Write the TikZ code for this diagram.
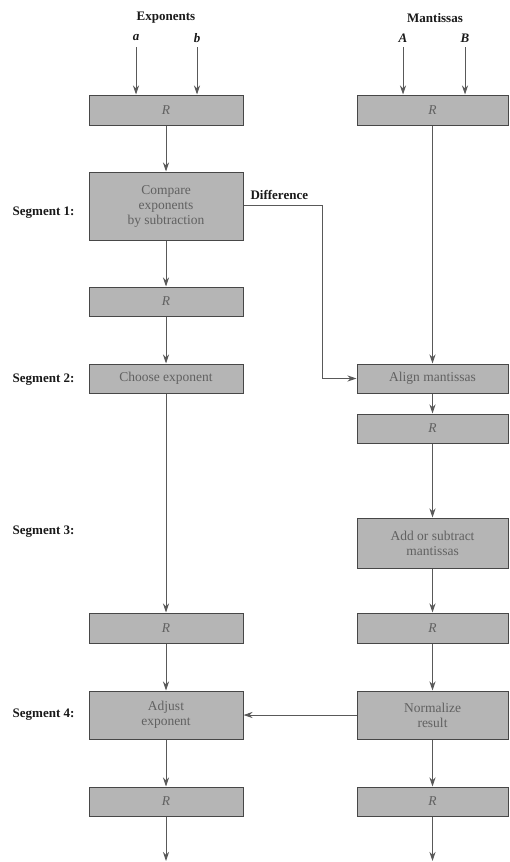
\documentclass[tikz,border=0pt]{standalone}
\usepackage{fontspec}
\setmainfont{Liberation Serif}
\usetikzlibrary{arrows.meta}
\begin{document}
\begin{tikzpicture}[x=1pt,y=-1pt,
  box/.style={draw=black!72, fill=black!29, line width=1pt, inner sep=0pt, align=center,
    font=\fontsize{13.5}{15}\selectfont, text=black!62},
  lbox/.style={box, minimum width=154pt},
  rbox/.style={box, minimum width=151pt},
  lbl/.style={font=\bfseries\fontsize{13}{14}\selectfont, text=black!90},
  ilbl/.style={font=\bfseries\itshape\fontsize{13}{14}\selectfont, text=black!90},
  arr/.style={draw=black!65, line width=1pt, -{Stealth[length=9pt,width=6pt]}}]
\useasboundingbox (0,0) rectangle (510,862);
% column headers
\node[lbl] (hexp) at (166,18) {Exponents};
\node[lbl] (hman) at (435,18) {Mantissas};
\node[ilbl] (la) at (136,38) {a};
\node[ilbl] (lb) at (197,38) {b};
\node[ilbl] (lA) at (403,38) {A};
\node[ilbl] (lB) at (465,38) {B};
% left column
\node[lbox, minimum height=30pt] (R1L) at (166,110) {\textit{R}};
\node[lbox, minimum height=68pt] (CMP) at (166,206) {Compare\\exponents\\by subtraction};
\node[lbox, minimum height=29pt] (R2L) at (166,301.5) {\textit{R}};
\node[lbox, minimum height=29pt] (CHO) at (166,378.5) {Choose exponent};
\node[lbox, minimum height=30pt] (R3L) at (166,628) {\textit{R}};
\node[lbox, minimum height=48pt] (ADJ) at (166,715) {Adjust\\exponent};
\node[lbox, minimum height=29pt] (R4L) at (166,801.5) {\textit{R}};
% right column
\node[rbox, minimum height=30pt] (R1R) at (432.5,110) {\textit{R}};
\node[rbox, minimum height=29pt] (ALI) at (432.5,378.5) {Align mantissas};
\node[rbox, minimum height=29pt] (R2R) at (432.5,428.5) {\textit{R}};
\node[rbox, minimum height=50pt] (ADD) at (432.5,543) {Add or subtract\\mantissas};
\node[rbox, minimum height=30pt] (R3R) at (432.5,628) {\textit{R}};
\node[rbox, minimum height=48pt] (NOR) at (432.5,715) {Normalize\\result};
\node[rbox, minimum height=29pt] (R4R) at (432.5,801.5) {\textit{R}};
% segment labels
\node[lbl, anchor=east] (s1) at (78,213) {Segment 1:};
\node[lbl, anchor=east] (s2) at (78,380) {Segment 2:};
\node[lbl, anchor=east] (s3) at (78,532) {Segment 3:};
\node[lbl, anchor=east] (s4) at (78,715) {Segment 4:};
\node[lbl, anchor=west] (dif) at (247,195) {Difference};
% input arrows
\coordinate (ia) at (136,47);
\coordinate (ib) at (197,47);
\coordinate (iA) at (403,47);
\coordinate (iB) at (465,47);
\draw[arr] (ia) -- (ia |- R1L.north);
\draw[arr] (ib) -- (ib |- R1L.north);
\draw[arr] (iA) -- (iA |- R1R.north);
\draw[arr] (iB) -- (iB |- R1R.north);
% left flow
\draw[arr] (R1L) -- (CMP);
\draw[arr] (CMP) -- (R2L);
\draw[arr] (R2L) -- (CHO);
\draw[arr] (CHO) -- (R3L);
\draw[arr] (R3L) -- (ADJ);
\draw[arr] (ADJ) -- (R4L);
\coordinate (oL) at (166,861);
\draw[arr] (R4L) -- (oL);
% right flow
\draw[arr] (R1R) -- (ALI);
\draw[arr] (ALI) -- (R2R);
\draw[arr] (R2R) -- (ADD);
\draw[arr] (ADD) -- (R3R);
\draw[arr] (R3R) -- (NOR);
\draw[arr] (NOR) -- (R4R);
\coordinate (oR) at (432.5,861);
\draw[arr] (R4R) -- (oR);
% cross connections
\draw[arr] ([yshift=1pt]CMP.east) -- ++(79,0) |- (ALI.west);
\draw[arr] (NOR.west) -- (ADJ.east);
\end{tikzpicture}
\end{document}
